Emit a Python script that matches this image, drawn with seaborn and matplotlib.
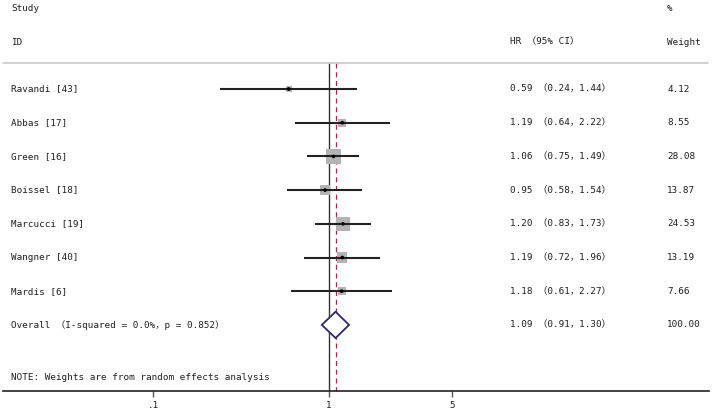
import numpy as np
import matplotlib
matplotlib.use("Agg")
import matplotlib.pyplot as plt
from matplotlib.transforms import blended_transform_factory
from matplotlib.patches import Polygon
import seaborn as sns

# ---- data ----
studies = ["Ravandi [43]", "Abbas [17]", "Green [16]", "Boissel [18]",
           "Marcucci [19]", "Wangner [40]", "Mardis [6]"]
hr = [0.59, 1.19, 1.06, 0.95, 1.20, 1.19, 1.18]
lo = [0.24, 0.64, 0.75, 0.58, 0.83, 0.72, 0.61]
hi = [1.44, 2.22, 1.49, 1.54, 1.73, 1.96, 2.27]
weights = [4.12, 8.55, 28.08, 13.87, 24.53, 13.19, 7.66]
overall_label = "Overall （I-squared = 0.0%，p = 0.852）"
overall = [1.09, 0.91, 1.30, 100.00]
xticks = [0.1, 1, 5]
xtick_labels = [".1", "1", "5"]
note = "NOTE: Weights are from random effects analysis"

sns.set_theme(style="white")
FONT = ["DejaVu Sans Mono", "Noto Sans CJK SC"]
plt.rcParams["font.family"] = FONT

W, H = 720, 415
fig = plt.figure(figsize=(W / 100, H / 100), dpi=100)
ax = fig.add_axes([0, 0, 1, 1])
ax.set_xscale("log")

# pixel geometry helpers (layout only)
px_one, px_dec = 329, 176
def px2x(px):
    return 10 ** ((px - px_one) / px_dec)
row0_px, row_h = 89, 33.7
def py2row(py):
    return (py - row0_px) / row_h

ax.set_xlim(px2x(0), px2x(W))
ax.set_ylim(py2row(H), py2row(0))

rows = np.arange(len(studies))
ov_row = len(studies)

txt = "#1e1e1e"
fs = 6.7
tr = blended_transform_factory(fig.transFigure, ax.transData)

# headers
ax.text(11 / W, py2row(8), "Study", transform=tr, fontsize=fs, color=txt, va="center")
ax.text(11 / W, py2row(42), "ID", transform=tr, fontsize=fs, color=txt, va="center")
ax.text(510 / W, py2row(42), "HR （95% CI）", transform=tr, fontsize=fs, color=txt, va="center")
ax.text(667 / W, py2row(8), "%", transform=tr, fontsize=fs, color=txt, va="center")
ax.text(667 / W, py2row(42), "Weight", transform=tr, fontsize=fs, color=txt, va="center")

# top separator line
ax.plot([3 / W, 708 / W], [py2row(63)] * 2, transform=tr, color="#c8c8c8", lw=1.2, clip_on=False)

top_row = py2row(63)
axis_row = py2row(391)

# reference lines
ax.vlines(1, top_row, axis_row, color="#333333", lw=1.0, zorder=1)
ax.vlines(overall[0], top_row, axis_row, color="#a0304a", lw=0.9, linestyles=(0, (4, 3)), zorder=1)

# boxes (area proportional to weight)
side_px = 15 * np.sqrt(np.array(weights) / 28.08)
sizes = (side_px * 0.72) ** 2
sns.scatterplot(x=hr, y=rows, marker="s", s=sizes, color="#b3b3b3", edgecolor="none",
                linewidth=0, ax=ax, zorder=2, legend=False)
# CI lines
ax.hlines(rows, lo, hi, color="#222222", lw=1.5, zorder=3)
# center points
sns.scatterplot(x=hr, y=rows, marker="o", s=7, color="black", edgecolor="none",
                linewidth=0, ax=ax, zorder=4, legend=False)

# overall diamond
dh = 0.39
diamond = Polygon([(overall[1], ov_row), (overall[0], ov_row - dh),
                   (overall[2], ov_row), (overall[0], ov_row + dh)],
                  closed=True, facecolor="white", edgecolor="#2a2a66", lw=1.3, zorder=5)
ax.add_patch(diamond)

# row texts
for r, name, h, l, u, w in zip(rows, studies, hr, lo, hi, weights):
    ax.text(11 / W, r, name, transform=tr, fontsize=fs, color=txt, va="center")
    ax.text(510 / W, r, f"{h:.2f} （{l:.2f}，{u:.2f}）", transform=tr, fontsize=fs, color=txt, va="center")
    ax.text(667 / W, r, f"{w:.2f}", transform=tr, fontsize=fs, color=txt, va="center")
ax.text(11 / W, ov_row, overall_label, transform=tr, fontsize=fs, color=txt, va="center")
ax.text(510 / W, ov_row, f"{overall[0]:.2f} （{overall[1]:.2f}，{overall[2]:.2f}）",
        transform=tr, fontsize=fs, color=txt, va="center")
ax.text(667 / W, ov_row, f"{overall[3]:.2f}", transform=tr, fontsize=fs, color=txt, va="center")
ax.text(11 / W, py2row(377), note, transform=tr, fontsize=fs, color=txt, va="center")

# x axis
for s in ["top", "left", "right"]:
    ax.spines[s].set_visible(False)
ax.spines["bottom"].set_position(("data", axis_row))
ax.spines["bottom"].set_bounds(px2x(3), px2x(709))
ax.spines["bottom"].set_color("#222222")
ax.spines["bottom"].set_linewidth(1.2)
ax.set_xticks(xticks)
ax.set_xticklabels(xtick_labels)
ax.xaxis.set_minor_locator(matplotlib.ticker.NullLocator())
ax.tick_params(axis="x", which="major", direction="out", length=4, width=1, color="#555555",
               labelsize=fs, labelcolor=txt, pad=3, bottom=True)
ax.set_yticks([])
ax.grid(False)

fig.savefig("out.png", dpi=100)
